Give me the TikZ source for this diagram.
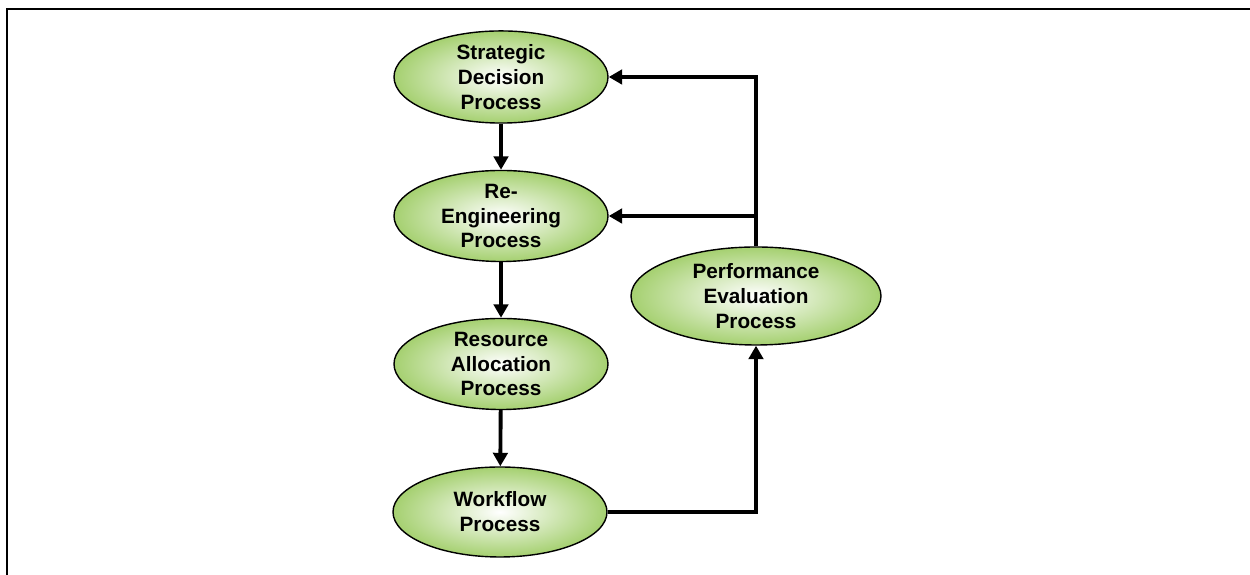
\documentclass[tikz,border=0pt]{standalone}
\usepackage{fontspec}
\setmainfont{Liberation Sans}
\usepackage{tikz}
\usetikzlibrary{shapes.geometric,arrows.meta}
\definecolor{procgreen}{RGB}{165,208,112}

\begin{document}
\begin{tikzpicture}[scale=1, every node/.style={ellipse,draw,thick,inner sep=0pt,
    minimum width=4.28cm,minimum height=1.8cm,align=center,
    inner color=white,outer color=procgreen,
    font=\fontsize{11.8}{14.2}\selectfont\bfseries},
    flow/.style={line width=2.2pt,-{Triangle[length=2.7mm,width=2.9mm]}}]
    \useasboundingbox (0,0) rectangle (25,11.5);
    % Page frame (only top and left edges show)
    \draw[line width=1.1pt] (0.14,0) -- (0.14,11.32) -- (25,11.32);

    % Main chain of processes
    \node (Strat) at (10.02,9.96) {Strategic\\Decision\\Process};
    \node (Reeng) at (10.02,7.18) {Re-\\Engineering\\Process};
    \node (Res) at (10.02,4.22) {Resource\\Allocation\\Process};
    \node (Work) at (10.0,1.26) {Workflow\\Process};
    \node[minimum width=5cm,minimum height=1.96cm] (Perf) at (15.12,5.58) {Performance\\Evaluation\\Process}; % Feedback

    \draw[flow] (Strat) -- (Reeng);
    \draw[flow] (Reeng) -- (Res);
    \draw[flow] (Res) -- (Work);
    \draw[flow] (Work.east) -| (Perf.south);

    % Feedback loop
    \coordinate (branch) at (Perf.north |- Reeng.east);
    \draw[flow] (Perf.north) |- (Strat.east);
    \draw[flow] (branch) -- (Reeng.east);
\end{tikzpicture}
\end{document}
